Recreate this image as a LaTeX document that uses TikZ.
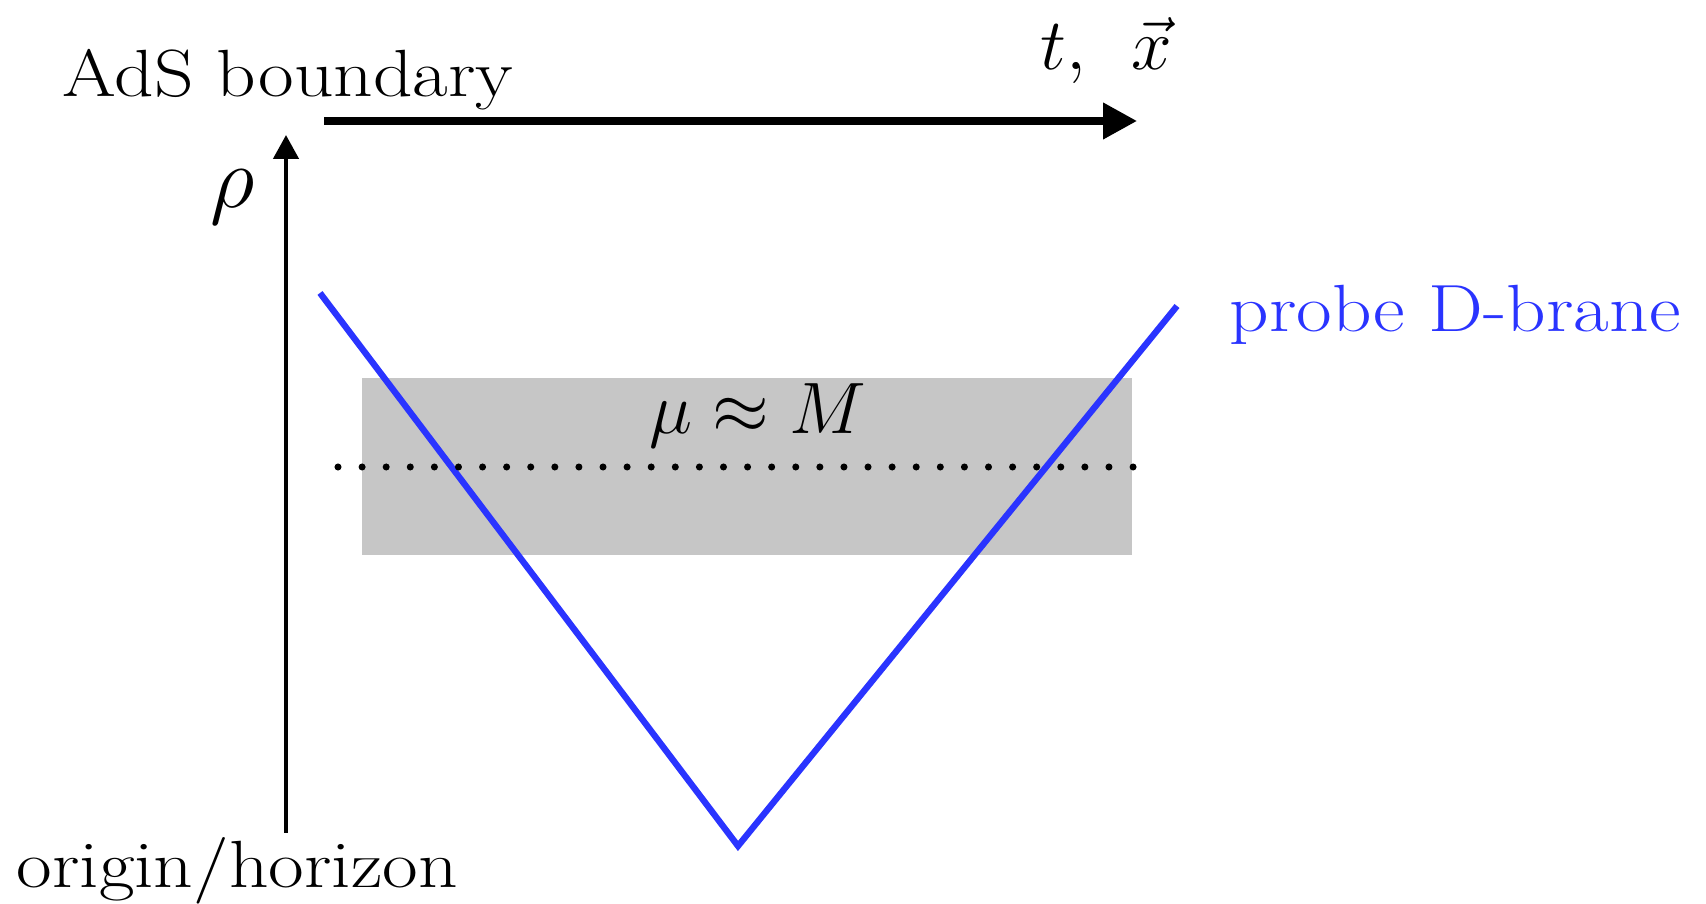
\documentclass[tikz,border=0pt]{standalone}
\usepackage{tikz}
\usetikzlibrary{arrows.meta, positioning}
\usepackage{amsmath}
\usepackage{graphicx}
\definecolor{brane}{RGB}{42,52,255}
\definecolor{band}{RGB}{198,198,198}
\newcommand{\widetext}[1]{\scalebox{1.16}[1]{#1}}

\begin{document}
\begin{tikzpicture}[
  every node/.style={font=\fontsize{20}{24}\selectfont, inner sep=0pt},
  lbl/.style={font=\fontsize{19}{23}\selectfont, anchor=base west},
  axis/.style={line width=1.3pt, -{Triangle[length=0.24cm, width=0.25cm]}},
  bdryaxis/.style={line width=2.1pt, -{Triangle[length=0.34cm, width=0.35cm]}},
  braneline/.style={draw=brane, line width=1.8pt, line join=miter},
  scaleline/.style={line width=2pt, line cap=round,
               dash pattern=on 0pt off 6.855pt}
]
\useasboundingbox (0,0) rectangle (17.06,9.04);

% energy band
\fill[band] (3.62,3.49) rectangle (11.32,5.26);

% axes
\coordinate (h0) at (3.24,7.83);
\coordinate (h1) at (11.37,7.83);
\coordinate (v0) at (2.86,0.71);
\coordinate (v1) at (2.86,7.69);
\draw[bdryaxis] (h0) -- (h1);
\draw[axis] (v0) -- (v1);

\node[lbl] (bdry) at (0.62,8.07) {\widetext{AdS boundary}};
\node[lbl] (orig) at (0.16,0.16) {\widetext{origin/horizon}};
\node[anchor=base west] (tx) at (10.40,8.34) {$t,\ \,\vec{x}$};
\node[font=\fontsize{26}{30}\selectfont] (rho) at (2.33,7.07) {$\rho$};

% probe brane
\coordinate (bl) at (3.20,6.11);
\coordinate (bm) at (7.38,0.58);
\coordinate (br) at (11.77,5.98);
\draw[braneline] (bl) -- (bm) -- (br);
\node[lbl, text=brane] (probe) at (12.29,5.72) {\widetext{probe D-brane}};

% scale mu ~ M
\coordinate (d0) at (3.38,4.37);
\coordinate (d1) at (11.34,4.37);
\draw[scaleline] (d0) -- (d1);
\node[anchor=base] (mu) at (7.58,4.70) {$\mu \approx M$};

\end{tikzpicture}
\end{document}
